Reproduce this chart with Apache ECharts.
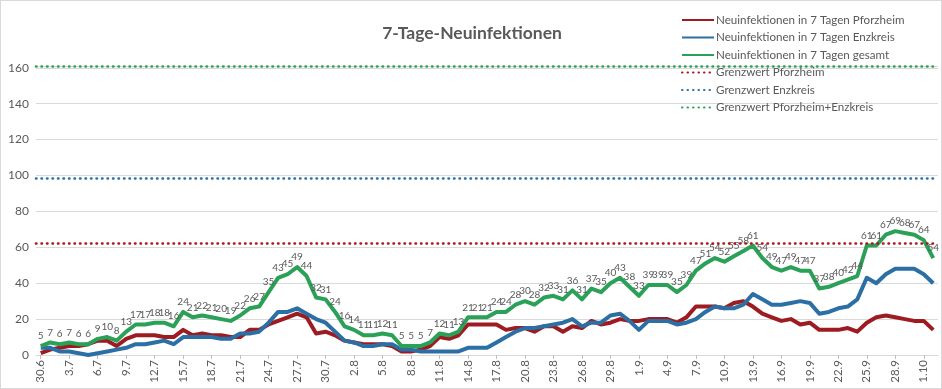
<!DOCTYPE html>
<html>
<head>
<meta charset="utf-8">
<script src="https://cdn.jsdelivr.net/npm/echarts@6/dist/echarts.min.js"></script>
<style>
html,body{margin:0;padding:0;background:#fff;}
#chart{width:942px;height:389px;box-sizing:border-box;border:1px solid #d9d9d9;}
</style>
</head>
<body>
<div id="chart"></div>
<script>
const dates = ['30.6',
 '1.7','2.7','3.7','4.7','5.7','6.7','7.7','8.7','9.7','10.7','11.7','12.7','13.7','14.7','15.7','16.7','17.7','18.7','19.7','20.7','21.7','22.7','23.7','24.7','25.7','26.7','27.7','28.7','29.7','30.7','31.7',
 '1.8','2.8','3.8','4.8','5.8','6.8','7.8','8.8','9.8','10.8','11.8','12.8','13.8','14.8','15.8','16.8','17.8','18.8','19.8','20.8','21.8','22.8','23.8','24.8','25.8','26.8','27.8','28.8','29.8','30.8','31.8',
 '1.9','2.9','3.9','4.9','5.9','6.9','7.9','8.9','9.9','10.9','11.9','12.9','13.9','14.9','15.9','16.9','17.9','18.9','19.9','20.9','21.9','22.9','23.9','24.9','25.9','26.9','27.9','28.9','29.9','30.9',
 '1.10','2.10'];

const pforzheim = [1,3,4,5,5,6,8,8,5,9, 11,11,11,10,10,14,11,12,11,11, 10,10,14,14,17,19,21,23,21,12,
 13,11,8,7,6,6,6,5,2,2, 3,5,10,9,11,17,17,17,17,14, 15,15,13,16,16,13,16,15,19,17,
 18,20,19,19,20,20,20,18,21,27, 27,27,26,29,30,27,23,21,19,20, 17,18,14,14,14,15,13,18,21,22, 21,20,19,19,14];

const enzkreis = [4,4,2,2,1,0,1,2,3,4, 6,6,7,8,6,10,10,10,10,9, 9,12,12,13,18,24,24,26,23,20,
 18,13,8,7,5,5,6,6,3,3, 2,2,2,2,2,4,4,4,7,10, 13,15,15,16,17,18,20,16,18,18,
 22,23,19,14,19,19,19,17,18,20, 24,27,26,26,28,34,31,28,28,29, 30,29,23,24,26,27,31,43,40,45, 48,48,48,45,40];

const gesamt = [5,7,6,7,6,6,9,10,8,13, 17,17,18,18,16,24,21,22,21,20, 19,22,26,27,35,43,45,49,44,32,
 31,24,16,14,11,11,12,11,5,5, 5,7,12,11,13,21,21,21,24,24, 28,30,28,32,33,31,36,31,37,35,
 40,43,38,33,39,39,39,35,39,47, 51,54,52,55,58,61,54,49,47,49, 47,47,37,38,40,42,44,61,61,67, 69,68,67,64,54];

const grenzPforzheim = 62.3;
const grenzEnzkreis = 98.6;
const grenzGesamt = 160.9;

const yTickStep = 20;
const yTop = 161;

const seriesNames = ['Neuinfektionen in 7 Tagen Pforzheim','Neuinfektionen in 7 Tagen Enzkreis','Neuinfektionen in 7 Tagen gesamt',
 'Grenzwert Pforzheim','Grenzwert Enzkreis','Grenzwert Pforzheim+Enzkreis'];

const cRed = '#9c1c22', cBlue = '#2b6fa5', cGreen = '#2ba158';
const FONT = 'Lato, "Open Sans", sans-serif';

function dataLine(name, data, color, labels){
  return {
    name, type:'line', data, symbol:'circle', symbolSize:0, showSymbol:labels, smooth:false,
    lineStyle:{color, width:4, join:'round'}, itemStyle:{color},
    label: labels ? {show:true, position:'top', distance:5, fontSize:10, color:'#595959', fontFamily:FONT} : {show:false},
    labelLayout: {hideOverlap:false},
    emphasis:{disabled:true},
    animation:false, z: 2
  };
}
function limitLine(name, value, color){
  return {
    name, type:'line', data:[], symbol:'none',
    lineStyle:{color, width:2.5, type:[0.5,5], cap:'round'}, itemStyle:{color},
    markLine:{silent:true, symbol:'none', label:{show:false}, animation:false,
      lineStyle:{color, width:2.5, type:[0.5,5], cap:'round'},
      data:[{yAxis:value}]},
    animation:false, z: 3
  };
}

const chart = echarts.init(document.getElementById('chart'));
chart.setOption({
  backgroundColor:'#fff',
  animation:false,
  title:{text:'7-Tage-Neuinfektionen', left:466, top:18, textAlign:'center',
    textStyle:{fontFamily:FONT, fontSize:17.5, fontWeight:'bold', color:'#595959'}},
  legend:{orient:'vertical', left:680, top:13, padding:0, itemWidth:32, itemHeight:10, itemGap:5.5,
    itemStyle:{opacity:0},
    textStyle:{fontFamily:FONT, fontSize:11.6, color:'#595959', padding:[0,0,0,-3]},
    data: seriesNames},
  grid:{left:35, right:3, top:65, bottom:33, containLabel:false},
  xAxis:{type:'category', data:dates, boundaryGap:true,
    axisLine:{lineStyle:{color:'#d9d9d9'}},
    axisTick:{show:true, interval:2, alignWithLabel:true, length:4, lineStyle:{color:'#bfbfbf'}},
    axisLabel:{interval:2, rotate:90, fontSize:11.5, color:'#595959', fontFamily:FONT, margin:5}},
  yAxis:{type:'value', min:0, max:yTop, interval:yTickStep,
    axisLine:{show:false}, axisTick:{show:false},
    splitLine:{lineStyle:{color:'#d9d9d9'}},
    axisLabel:{fontSize:12, color:'#595959', fontFamily:FONT, margin:7,
      formatter: v => (v % yTickStep === 0 ? String(v) : '')}},
  series:[
    dataLine(seriesNames[0], pforzheim, cRed, false),
    dataLine(seriesNames[1], enzkreis, cBlue, false),
    dataLine(seriesNames[2], gesamt, cGreen, true),
    limitLine(seriesNames[3], grenzPforzheim, '#b0151c'),
    limitLine(seriesNames[4], grenzEnzkreis, '#2b6fa5'),
    limitLine(seriesNames[5], grenzGesamt, '#2ba158')
  ]
});
</script>
</body>
</html>
